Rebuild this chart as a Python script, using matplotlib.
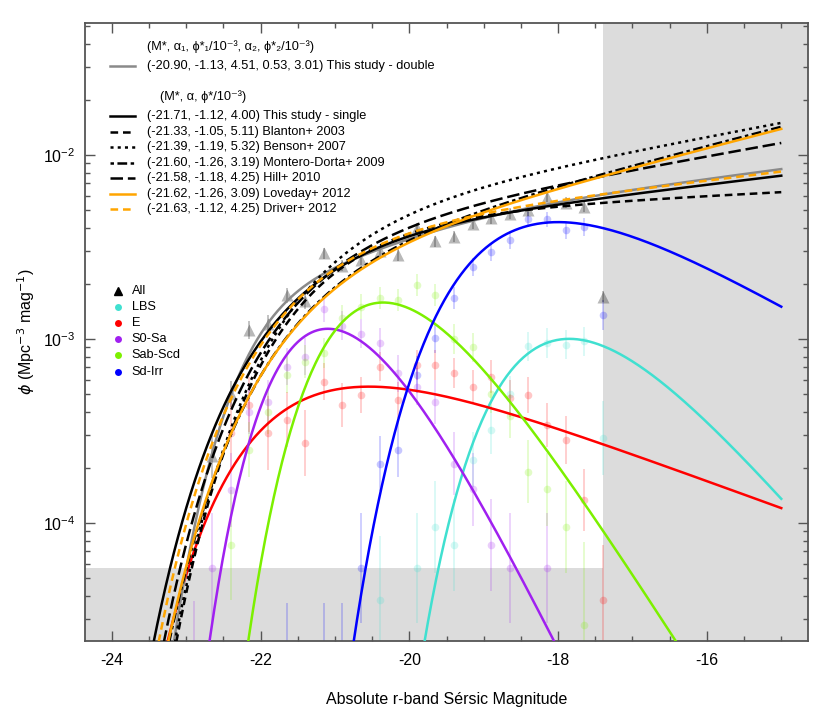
import numpy as np
import matplotlib
matplotlib.use("Agg")
import matplotlib.pyplot as plt
from matplotlib.ticker import LogLocator, MultipleLocator, LogFormatterMathtext, NullFormatter

plt.rcParams['font.family'] = ['Liberation Sans', 'DejaVu Sans']
plt.rcParams['lines.scale_dashes'] = False
plt.rcParams['axes.unicode_minus'] = False

# published Schechter fits (M*, alpha, phi*/1e-3)
fit_names = ['This study - single', 'Blanton+ 2003', 'Benson+ 2007', 'Montero-Dorta+ 2009',
             'Hill+ 2010', 'Loveday+ 2012', 'Driver+ 2012']
fit_mstar = [-21.71, -21.33, -21.39, -21.60, -21.58, -21.62, -21.63]
fit_alpha = [-1.12, -1.05, -1.19, -1.26, -1.18, -1.26, -1.12]
fit_phistar = [4.00, 5.11, 5.32, 3.19, 4.25, 3.09, 4.25]
fit_colors = ['black', 'black', 'black', 'black', 'black', 'orange', 'orange']
fit_dashes = [None, (5.5, 3.5), (2.2, 3.0), (2.5, 2.5, 7.0, 2.5), (9.0, 3.5), None, (5.5, 3.5)]

# double Schechter (M*, a1, phi1*/1e-3, a2, phi2*/1e-3)
dbl_params = [-20.90, -1.13, 4.51, 0.53, 3.01]

# morphological types: fitted curves (values estimated from the figure)
type_names = ['LBS', 'E', 'S0-Sa', 'Sab-Scd', 'Sd-Irr']
type_colors = ['#40E0D0', '#FF0000', '#A020F0', '#7CF000', '#0000FF']
type_mstar = [-17.67, -21.62, -20.29, -19.84, -18.59]
type_alpha = [0.18, -0.63, 1.10, 0.60, -0.42]
type_phistar = [2.91, 1.25, 2.12, 4.00, 11.48]

# binned data points (phi in Mpc^-3 mag^-1, errors in dex)
all_mag = [-22.65, -22.4, -22.15, -21.9, -21.65, -21.4, -21.15, -20.9, -20.65, -20.4, -20.15,
           -19.9, -19.65, -19.4, -19.15, -18.9, -18.65, -18.4, -18.15, -17.9, -17.65, -17.4]
all_phi = [2.3e-4, 5.0e-4, 1.12e-3, 1.2e-3, 1.73e-3, 1.6e-3, 2.92e-3, 2.5e-3, 2.69e-3, 3.0e-3, 2.86e-3,
           4.0e-3, 3.4e-3, 3.6e-3, 4.22e-3, 4.53e-3, 4.78e-3, 5.0e-3, 5.93e-3, 5.5e-3, 5.24e-3, 1.70e-3]
all_err = [0.12, 0.07, 0.05, 0.05, 0.04, 0.04, 0.03, 0.03, 0.03, 0.03, 0.03,
           0.03, 0.03, 0.03, 0.03, 0.03, 0.03, 0.03, 0.03, 0.03, 0.03, 0.03]

lbs_mag = [-20.4, -19.9, -19.65, -19.4, -19.15, -18.9, -18.65, -18.4, -18.15, -17.9, -17.65, -17.4]
lbs_phi = [3.8e-5, 5.7e-5, 9.5e-5, 7.6e-5, 2.2e-4, 3.2e-4, 5.0e-4, 9.1e-4, 9.5e-4, 9.3e-4, 9.7e-4, 2.9e-4]
lbs_err = [0.35, 0.3, 0.25, 0.25, 0.15, 0.13, 0.1, 0.08, 0.08, 0.08, 0.08, 0.2]

e_mag = [-22.4, -22.15, -21.9, -21.65, -21.4, -21.15, -20.9, -20.65, -20.4, -20.15, -19.9,
         -19.65, -19.4, -19.15, -18.9, -18.65, -18.4, -18.15, -17.9, -17.65, -17.4]
e_phi = [3.07e-4, 4.38e-4, 3.07e-4, 3.63e-4, 2.71e-4, 5.86e-4, 4.38e-4, 4.96e-4, 7.06e-4, 4.66e-4, 7.23e-4,
         7.23e-4, 6.52e-4, 5.51e-4, 6.24e-4, 4.76e-4, 4.96e-4, 3.41e-4, 2.82e-4, 1.33e-4, 3.8e-5]
e_err = [0.2, 0.15, 0.2, 0.15, 0.18, 0.1, 0.12, 0.1, 0.08, 0.1, 0.08,
         0.08, 0.08, 0.09, 0.09, 0.1, 0.1, 0.12, 0.13, 0.17, 0.3]

s0_mag = [-22.9, -22.65, -22.4, -22.15, -21.9, -21.65, -21.4, -21.15, -20.9, -20.65, -20.4,
          -20.15, -19.9, -19.65, -19.4, -19.15, -18.9, -18.65, -18.15]
s0_phi = [1.5e-5, 5.7e-5, 1.51e-4, 4.03e-4, 4.56e-4, 7.06e-4, 8.0e-4, 1.45e-3, 1.18e-3, 1.07e-3, 9.5e-4,
          6.5e-4, 5.5e-4, 4.56e-4, 2.1e-4, 1.52e-4, 7.6e-5, 5.7e-5, 5.7e-5]
s0_err = [0.4, 0.3, 0.2, 0.12, 0.12, 0.1, 0.1, 0.07, 0.08, 0.08, 0.08,
          0.1, 0.1, 0.12, 0.17, 0.2, 0.25, 0.3, 0.3]

sab_mag = [-22.4, -22.15, -21.9, -21.65, -21.4, -21.15, -20.9, -20.65, -20.4, -20.15,
           -19.9, -19.65, -19.4, -19.15, -18.9, -18.65, -18.4, -18.15, -17.9, -17.65]
sab_phi = [7.6e-5, 2.5e-4, 4.0e-4, 6.4e-4, 7.5e-4, 8.4e-4, 1.3e-3, 1.5e-3, 1.66e-3, 1.63e-3,
           1.96e-3, 1.74e-3, 1.0e-3, 9.0e-4, 5.0e-4, 3.8e-4, 1.9e-4, 1.52e-4, 9.5e-5, 2.8e-5]
sab_err = [0.3, 0.15, 0.12, 0.1, 0.09, 0.08, 0.07, 0.07, 0.06, 0.06,
           0.06, 0.06, 0.08, 0.08, 0.1, 0.12, 0.17, 0.2, 0.25, 0.45]

sd_mag = [-21.65, -21.15, -20.9, -20.65, -20.4, -20.15, -19.9, -19.65, -19.4, -19.15,
          -18.9, -18.65, -18.4, -18.15, -17.9, -17.65, -17.4]
sd_phi = [1.3e-5, 1.3e-5, 1.3e-5, 5.7e-5, 2.1e-4, 2.5e-4, 6.4e-4, 1.01e-3, 1.66e-3, 2.47e-3,
          2.98e-3, 3.45e-3, 4.48e-3, 4.48e-3, 3.91e-3, 4.07e-3, 1.35e-3]
sd_err = [0.45, 0.45, 0.45, 0.3, 0.15, 0.15, 0.1, 0.08, 0.06, 0.05,
          0.05, 0.05, 0.04, 0.04, 0.05, 0.05, 0.08]

type_data = [(lbs_mag, lbs_phi, lbs_err), (e_mag, e_phi, e_err), (s0_mag, s0_phi, s0_err),
             (sab_mag, sab_phi, sab_err), (sd_mag, sd_phi, sd_err)]

mag_limit = -17.4      # faint completeness limit (shaded right)
phi_limit = 5.7e-5     # density limit (shaded bottom)
xlim = (-24.36, -14.645)
ylim = (2.28e-5, 0.0524)


def schechter(M, mstar, alpha, phistar):
    x = 10 ** (0.4 * (mstar - M))
    return 0.4 * np.log(10) * phistar * x ** (alpha + 1) * np.exp(-x)


def double_schechter(M, mstar, a1, p1, a2, p2):
    x = 10 ** (0.4 * (mstar - M))
    return 0.4 * np.log(10) * np.exp(-x) * (p1 * x ** (a1 + 1) + p2 * x ** (a2 + 1))


fig = plt.figure(figsize=(8.3, 7.27), dpi=100)
ax = fig.add_axes([0.1024, 0.1183, 0.8707, 0.8505])
ax.set_xlim(*xlim)
ax.set_yscale('log')
ax.set_ylim(*ylim)

ax.axvspan(mag_limit, xlim[1], color='#dcdcdc', lw=0, zorder=0)
ax.axhspan(ylim[0], phi_limit, color='#dcdcdc', lw=0, zorder=0)

# data points
for (mag, phi, err), col in zip(type_data, type_colors):
    phi = np.array(phi)
    err = np.array(err)
    ax.errorbar(mag, phi, yerr=[phi - phi / 10 ** err, phi * 10 ** err - phi], fmt='o',
                color=col, ms=5.5, mec='none', alpha=0.22, elinewidth=1.2, capsize=0, zorder=2)
phi = np.array(all_phi)
err = np.array(all_err)
ax.errorbar(all_mag, phi, yerr=[phi - phi / 10 ** err, phi * 10 ** err - phi], fmt='^',
            color='black', ms=8, mec='none', alpha=0.28, elinewidth=1.2, capsize=0, zorder=2)

mgrid = np.linspace(-24.3, -15.0, 500)

# morphological fits
for i in range(len(type_names)):
    ax.plot(mgrid, schechter(mgrid, type_mstar[i], type_alpha[i], type_phistar[i] * 1e-3),
            color=type_colors[i], lw=1.8, zorder=3)

# global fits
ax.plot(mgrid, double_schechter(mgrid, dbl_params[0], dbl_params[1], dbl_params[2] * 1e-3,
                                dbl_params[3], dbl_params[4] * 1e-3),
        color='#8a8a8a', lw=1.8, zorder=4)
for i in range(len(fit_names)):
    ln, = ax.plot(mgrid, schechter(mgrid, fit_mstar[i], fit_alpha[i], fit_phistar[i] * 1e-3),
                  color=fit_colors[i], lw=1.8, zorder=4, dash_capstyle='butt')
    if fit_dashes[i] is not None:
        ln.set_dashes(fit_dashes[i])

# legend for the fits (drawn by hand to keep R-like layout)
tr = ax.transAxes
hx = [0.0346, 0.0692]
tx = 0.0854
fs = 9.2
ax.text(tx, 0.9612, '(M*, α₁, ϕ*₁/10⁻³, α₂, ϕ*₂/10⁻³)', transform=tr, fontsize=fs, va='center')
ax.plot(hx, [0.930, 0.930], transform=tr, color='#8a8a8a', lw=1.8)
ax.text(tx, 0.930, '({:.2f}, {:.2f}, {:.2f}, {:.2f}, {:.2f}) This study - double'.format(*dbl_params),
        transform=tr, fontsize=fs, va='center')
ax.text(0.1038, 0.8803, '(M*, α, ϕ*/10⁻³)', transform=tr, fontsize=fs, va='center')
for i in range(len(fit_names)):
    yy = 0.8491 - 0.0251 * i
    ln, = ax.plot(hx, [yy, yy], transform=tr, color=fit_colors[i], lw=1.8, dash_capstyle='butt')
    if fit_dashes[i] is not None:
        ln.set_dashes(fit_dashes[i])
    ax.text(tx, yy, '({:.2f}, {:.2f}, {:.2f}) {}'.format(fit_mstar[i], fit_alpha[i], fit_phistar[i], fit_names[i]),
            transform=tr, fontsize=fs, va='center')

# legend for the types
ly = 0.5666
ax.plot([0.0457], [ly], marker='^', color='black', ms=6, transform=tr, ls='none')
ax.text(0.0646, ly, 'All', transform=tr, fontsize=fs, va='center')
for i in range(len(type_names)):
    yy = ly - 0.0262 * (i + 1)
    ax.plot([0.0457], [yy], marker='o', color=type_colors[i], ms=5, mec='none', transform=tr, ls='none')
    ax.text(0.0646, yy, type_names[i], transform=tr, fontsize=fs, va='center')

# axes cosmetics
ax.set_xticks([-24, -22, -20, -18, -16])
ax.xaxis.set_minor_locator(MultipleLocator(0.5))
ax.yaxis.set_major_locator(LogLocator(base=10))
ax.yaxis.set_minor_locator(LogLocator(base=10, subs=np.arange(2, 10)))
ax.yaxis.set_major_formatter(LogFormatterMathtext())
ax.yaxis.set_minor_formatter(NullFormatter())
ax.tick_params(which='both', direction='in', top=True, right=True, color='#555555', labelsize=11.5)
ax.tick_params(which='major', length=7.2, width=1.0)
ax.tick_params(which='minor', length=3.6, width=1.0)
ax.tick_params(axis='x', pad=9)
ax.tick_params(axis='y', pad=7)
for sp in ax.spines.values():
    sp.set_color('#555555')
    sp.set_linewidth(1.3)

ax.set_xlabel('Absolute r-band Sérsic Magnitude', fontsize=11.5)
ax.xaxis.set_label_coords(0.5, -0.083)
ax.set_ylabel(r'$\phi$ (Mpc$^{-3}$ mag$^{-1}$)', fontsize=11.5)
ax.yaxis.set_label_coords(-0.066, 0.5)

fig.savefig('out.png', dpi=100)
